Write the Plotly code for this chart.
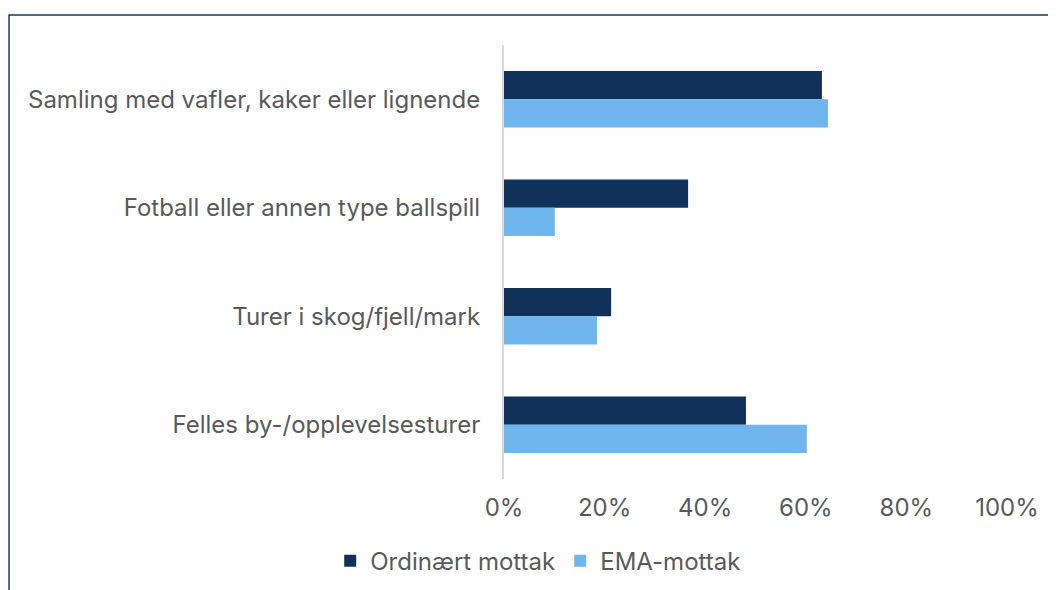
import plotly.graph_objects as go

categories = [
    "Samling med vafler, kaker eller lignende",
    "Fotball eller annen type ballspill",
    "Turer i skog/fjell/mark",
    "Felles by-/opplevelsesturer",
]
ordinaert = [63.2, 36.6, 21.3, 48.1]
ema = [64.4, 10.1, 18.5, 60.2]
series_names = ["Ordinært mottak", "EMA-mottak"]
tick_vals = [0, 20, 40, 60, 80, 100]
tick_text = ["0%", "20%", "40%", "60%", "80%", "100%"]

dark = "#10325A"
light = "#6FB5EE"
font_fam = "Inter, Roboto, sans-serif"
gray = "#595959"
fs = 24

fig = go.Figure()
fig.add_trace(go.Bar(y=categories, x=ordinaert, orientation="h", name=series_names[0],
                     marker=dict(color=dark, line=dict(width=0))))
fig.add_trace(go.Bar(y=categories, x=ema, orientation="h", name=series_names[1],
                     marker=dict(color=light, line=dict(width=0))))

fig.update_layout(
    width=1056, height=590,
    margin=dict(l=496, r=57, t=37, b=119),
    barmode="group", bargap=0.48, bargroupgap=0,
    plot_bgcolor="white", paper_bgcolor="white",
    font=dict(family=font_fam, size=fs, color=gray),
    showlegend=True,
    legend=dict(orientation="h", x=0.068, xanchor="center", y=-0.189, yanchor="middle",
                font=dict(size=fs, color=gray), itemwidth=30, tracegroupgap=0,
                traceorder="normal"),
    xaxis=dict(range=[0, 100], tickvals=tick_vals, ticktext=tick_text, showgrid=False,
               zeroline=False, showline=False, ticklabelstandoff=12,
               tickfont=dict(size=fs, color=gray)),
    yaxis=dict(autorange="reversed", showline=True, linecolor="#D9D9D9", linewidth=2,
               showgrid=False, zeroline=False, ticklabelstandoff=17,
               tickfont=dict(size=fs, color=gray)),
)

fig.add_shape(type="rect", xref="paper", yref="paper",
              x0=-0.984, x1=1.3, y0=-0.6, y1=1.069,
              line=dict(color="#17375E", width=1.5), fillcolor="rgba(0,0,0,0)", layer="above")

fig.write_html("out.html")
